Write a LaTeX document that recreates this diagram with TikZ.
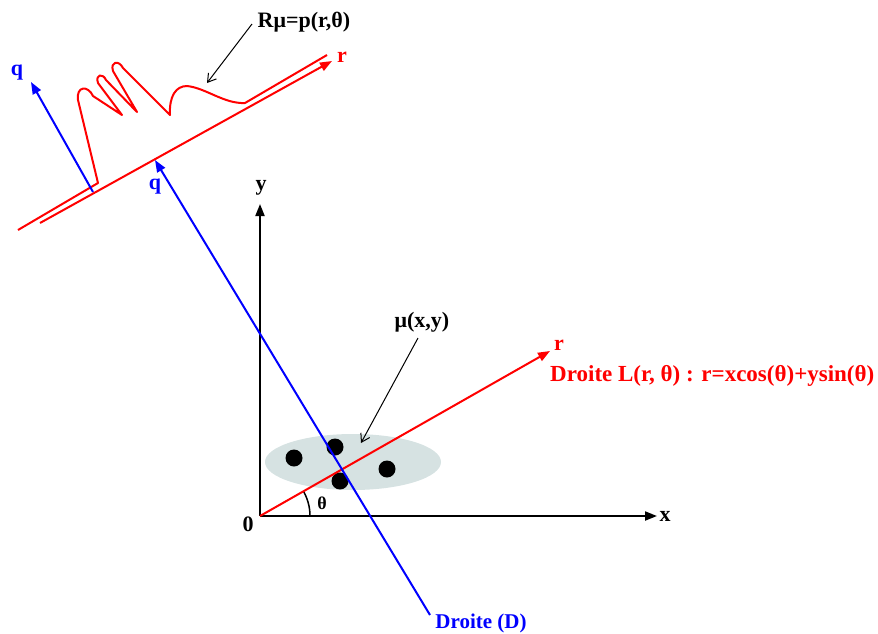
\documentclass[tikz,border=0pt]{standalone}
\usepackage{fontspec}
\setmainfont{Liberation Serif}
\usetikzlibrary{arrows.meta,shapes.geometric}
\definecolor{cloud}{RGB}{214,226,226}
\begin{document}
\begin{tikzpicture}[x=1pt,y=-1pt,
  lbl/.style={font=\fontsize{22}{25}\selectfont\bfseries, inner sep=0pt},
  redl/.style={red, line width=2pt},
  bluel/.style={blue, line width=2pt},
  axis/.style={black, line width=2pt, -{Triangle[length=12pt,width=9pt]}},
  redarrow/.style={redl, -{Triangle[length=12pt,width=9pt]}},
  bluearrow/.style={bluel, -{Triangle[length=12pt,width=9pt]}},
  note/.style={black, line width=1pt, -{Straight Barb[length=8pt,width=10pt]}},
  dot/.style={circle, fill=black, minimum size=17pt, inner sep=0pt}]
\useasboundingbox (0,0) rectangle (878,633);

% ---- cloud and points
\node[ellipse, fill=cloud, minimum width=176pt, minimum height=56pt, inner sep=0pt] (cl) at (353,462) {};
\node[dot] (p1) at (294,458) {};
\node[dot] (p2) at (335,447) {};
\node[dot] (p3) at (387,469) {};
\node[dot] (p4) at (340,481) {};

% ---- axes
\coordinate (O) at (260,516);
\coordinate (X) at (657,516);
\coordinate (Y) at (260,204);
\draw[axis] (O) -- (X);
\draw[axis] (O) -- (Y);
\node[lbl] (xl) at (665,516) {x};
\node[lbl] (yl) at (261,188) {y};
\node[lbl] (ol) at (248,524) {0};

% ---- theta arc
\draw[black, line width=1.5pt] (310,516) arc[start angle=0, end angle=-30, radius=50];
\node[lbl] (th) at (322,503) {\fontsize{18}{20}\selectfont θ};

% ---- line L
\coordinate (Rt) at (550,351);
\draw[redarrow] (O) -- (Rt);
\node[lbl, red] (rl) at (559,345) {r};
\node[lbl, red, anchor=west] (Ll) at (550,376) {\fontsize{23}{26}\selectfont Droite L(r, θ) : r=xcos(θ)+ysin(θ)};

% ---- line D
\coordinate (Db) at (430,615);
\coordinate (Dt) at (155,160);
\draw[bluearrow] (Db) -- (Dt);
\node[lbl, blue] (ql) at (155,187) {q};
\node[lbl, blue] (Dl) at (481,623) {\fontsize{21}{24}\selectfont Droite (D)};

% ---- mu label
\node[lbl] (mul) at (422,322) {μ(x,y)};
\coordinate (mua) at (418,338);
\coordinate (mub) at (361,443);
\draw[note] (mua) -- (mub);

% ---- projection axis (upper)
\coordinate (A0) at (40,223);
\coordinate (A1) at (332,61);
\draw[redarrow] (A0) -- (A1);
\node[lbl, red] (r2) at (342,57) {r};

% ---- profile
\draw[redl, line join=round] (18,230) -- (98,183) -- (78,100)
  .. controls (76,86) and (88,85) .. (93,96) -- (122,115)
  -- (98,83) .. controls (95,74) and (103,73) .. (106,80) -- (137,112)
  -- (113,71) .. controls (110,61) and (119,60) .. (123,68) -- (170,115)
  .. controls (169,96) and (176,86) .. (187,86)
  .. controls (206,88) and (224,104) .. (245,103) -- (327,55);

% ---- left q arrow
\coordinate (Q0) at (93,192);
\coordinate (Q1) at (31,82);
\draw[bluearrow] (Q0) -- (Q1);
\node[lbl, blue] (q2) at (17,73) {q};

% ---- R mu label
\node[lbl] (Rml) at (304,22) {Rμ=p(r,θ)};
\coordinate (Ra) at (252,24);
\coordinate (Rb) at (207,83);
\draw[note] (Ra) -- (Rb);
\end{tikzpicture}
\end{document}
